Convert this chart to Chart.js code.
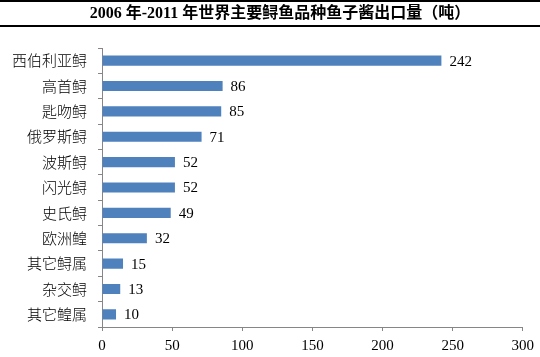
<!DOCTYPE html>
<html><head><meta charset="utf-8">
<script src="https://cdn.jsdelivr.net/npm/chart.js@4"></script>
<style>html,body{margin:0;padding:0;background:#fff}#wrap{width:540px;height:357px;position:relative}</style>
</head><body><div id="wrap"><canvas id="c" width="540" height="357"></canvas></div>
<script>
const categories = ["西伯利亚鲟","高首鲟","匙吻鲟","俄罗斯鲟","波斯鲟","闪光鲟","史氏鲟","欧洲鳇","其它鲟属","杂交鲟","其它鳇属"];
const values = [242,86,85,71,52,52,49,32,15,13,10];
const xTicks = [0,50,100,150,200,250,300];
const titleText = "2006 年-2011 年世界主要鲟鱼品种鱼子酱出口量（吨）";

const decor = {
  id:'decor',
  afterDraw(chart){
    const ctx = chart.ctx;
    ctx.save();
    ctx.strokeStyle='#000'; ctx.lineWidth=2;
    ctx.beginPath(); ctx.moveTo(0,1); ctx.lineTo(540,1); ctx.stroke();
    ctx.beginPath(); ctx.moveTo(0,26); ctx.lineTo(540,26); ctx.stroke();
    ctx.fillStyle='#000';
    ctx.font='bold 16px "Liberation Serif","Noto Sans CJK SC",serif';
    ctx.textAlign='center'; ctx.textBaseline='middle';
    ctx.fillText(titleText, 280, 14);
    const meta = chart.getDatasetMeta(0);
    ctx.font='15px "Liberation Serif", serif';
    ctx.textBaseline='middle'; ctx.textAlign='left';
    meta.data.forEach((b,i)=>{ ctx.fillText(String(values[i]), b.x+8, b.y+1); });
    ctx.restore();
  }
};

new Chart(document.getElementById('c'), {
  type:'bar',
  data:{labels:categories, datasets:[{data:values, backgroundColor:'#4f81bd', borderWidth:0, barPercentage:0.4, categoryPercentage:1}]},
  options:{
    indexAxis:'y', responsive:false, animation:false,
    layout:{padding:{left:1,right:17,top:48,bottom:-4}},
    plugins:{legend:{display:false}, tooltip:{enabled:false}, title:{display:false}},
    scales:{
      x:{min:0,max:300, afterBuildTicks(s){ s.ticks = xTicks.map(v=>({value:v})); },
        grid:{display:true, drawOnChartArea:false, drawTicks:true, tickLength:4, color:'#868686'},
        border:{display:true,color:'#868686'},
        ticks:{color:'#000', font:{family:'"Liberation Serif",serif', size:15}, padding:6, maxRotation:0}},
      y:{grid:{display:true, drawOnChartArea:false, drawTicks:true, tickLength:4, color:'#868686', offset:true},
        border:{display:true,color:'#868686'},
        ticks:{color:'#000', font:{family:'"Noto Sans CJK SC",sans-serif', size:15, weight:300}, padding:11}}
    }
  },
  plugins:[decor]
});
</script></body></html>
